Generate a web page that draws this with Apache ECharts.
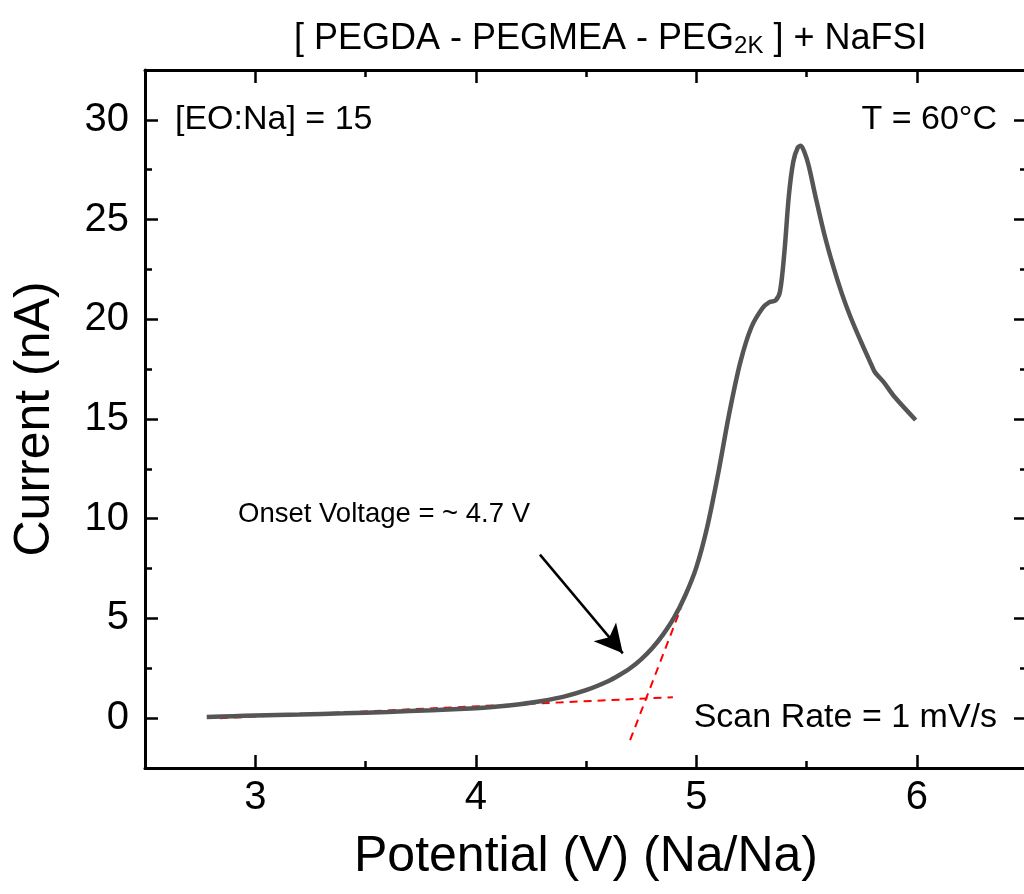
<!DOCTYPE html>
<html>
<head>
<meta charset="utf-8">
<script src="https://cdn.jsdelivr.net/npm/echarts@6/dist/echarts.min.js"></script>
<style>
  html, body { margin: 0; padding: 0; background: #fff; }
  #chart { width: 1024px; height: 894px; }
</style>
</head>
<body>
<div id="chart"></div>
<script>
// LSV curve
const potential = [2.78, 2.9, 3.0, 3.2, 3.4, 3.6, 3.8, 4.0, 4.1, 4.2, 4.3, 4.4, 4.5, 4.6, 4.65, 4.7, 4.75, 4.8, 4.85, 4.9, 4.95, 5.0, 5.05, 5.1, 5.15, 5.2, 5.25, 5.30, 5.33, 5.36, 5.38, 5.40, 5.42, 5.44, 5.46, 5.474, 5.49, 5.51, 5.54, 5.58, 5.62, 5.66, 5.70, 5.75, 5.795, 5.81, 5.85, 5.90, 5.995];
const current   = [0.06, 0.1, 0.13, 0.18, 0.24, 0.31, 0.4, 0.5, 0.58, 0.7, 0.86, 1.08, 1.4, 1.85, 2.15, 2.5, 2.95, 3.5, 4.2, 5.05, 6.15, 7.55, 9.6, 12.3, 15.3, 17.85, 19.6, 20.55, 20.85, 20.95, 21.4, 23.4, 26.2, 27.9, 28.6, 28.7, 28.4, 27.7, 26.2, 24.3, 22.7, 21.3, 20.1, 18.8, 17.7, 17.35, 16.85, 16.1, 14.95];

// tangent construction lines (red dashed)
const baselineTangent = [[2.84, 0.0], [4.894, 1.05]];
const riseTangent = [[4.70, -1.1], [4.93, 5.5]];
// arrow pointing at onset
const arrowFrom = [4.291, 8.2];
const arrowTo = [4.667, 3.25];

const xMajor = [3, 4, 5, 6];
const xMinor = [3.5, 4.5, 5.5, 6.5, 2.5];
const yMajor = [0, 5, 10, 15, 20, 25, 30];
const yMinor = [2.5, 7.5, 12.5, 17.5, 22.5, 27.5, 32.5];

const FONT = '"Liberation Sans", Arial, sans-serif';
const chart = echarts.init(document.getElementById('chart'));

const curveData = potential.map((v, i) => [v, current[i]]);

function xAx(pos, ticks, len, withLine, extra) {
  return Object.assign({
    type: 'value', position: pos, min: 2.5, max: 6.5, interval: 0.5,
    splitLine: { show: false },
    axisLine: { show: withLine, onZero: false, lineStyle: { color: '#000', width: 3 } },
    axisTick: { show: true, inside: true, length: len, customValues: ticks, lineStyle: { color: '#000', width: 2.5 } },
    axisLabel: { show: false }
  }, extra || {});
}
function yAx(pos, ticks, len, withLine, extra) {
  return Object.assign({
    type: 'value', position: pos, min: -2.5, max: 32.5, interval: 2.5,
    splitLine: { show: false },
    axisLine: { show: withLine, onZero: false, lineStyle: { color: '#000', width: 3 } },
    axisTick: { show: true, inside: true, length: len, customValues: ticks, lineStyle: { color: '#000', width: 2.5 } },
    axisLabel: { show: false }
  }, extra || {});
}

const option = {
  backgroundColor: '#fff',
  animation: false,
  grid: { left: 145, right: -3, top: 70, bottom: 126, outerBoundsMode: 'none', containLabel: false },
  xAxis: [
    xAx('bottom', xMajor, 13, true, {
      name: 'Potential (V) (Na/Na)', nameLocation: 'middle', nameGap: 64,
      nameTextStyle: { fontSize: 50, fontFamily: FONT, color: '#000' },
      axisLabel: { show: true, customValues: xMajor, margin: 10, fontSize: 40, fontFamily: FONT, color: '#000' }
    }),
    xAx('bottom', xMinor, 7, false),
    xAx('top', xMajor, 13, true),
    xAx('top', xMinor, 7, false)
  ],
  yAxis: [
    yAx('left', yMajor, 13, true, {
      name: 'Current (nA)', nameLocation: 'middle', nameGap: 85,
      nameTextStyle: { fontSize: 50, fontFamily: FONT, color: '#000' },
      axisLabel: { show: true, customValues: yMajor, margin: 16, fontSize: 40, fontFamily: FONT, color: '#000' }
    }),
    yAx('left', yMinor, 7, false),
    yAx('right', yMajor, 13, true),
    yAx('right', yMinor, 7, false)
  ],
  series: [
    {
      type: 'line', data: baselineTangent, symbol: 'none', silent: true,
      lineStyle: { color: '#ff0000', width: 2, type: [8, 6] }
    },
    {
      type: 'line', data: riseTangent, symbol: 'none', silent: true,
      lineStyle: { color: '#ff0000', width: 2, type: [8, 6] }
    },
    {
      type: 'line', data: curveData, symbol: 'none', smooth: 0.3,
      lineStyle: { color: '#555555', width: 4.5 },
      markLine: {
        silent: true, animation: false,
        symbol: ['none', 'arrow'], symbolSize: [22, 28],
        label: { show: false },
        lineStyle: { color: '#000', width: 2.5, type: 'solid' },
        data: [[{ coord: arrowFrom }, { coord: arrowTo }]]
      }
    }
  ],
  graphic: [
    {
      type: 'text', left: 294, top: 11,
      style: {
        text: '{a|[ PEGDA - PEGMEA - PEG}{s|2K}{a| ] + NaFSI}',
        rich: {
          a: { fontSize: 36, fontFamily: FONT, fill: '#000', lineHeight: 37, verticalAlign: 'top' },
          s: { fontSize: 24, fontFamily: FONT, fill: '#000', lineHeight: 24, padding: [23, 0, 0, 0], verticalAlign: 'bottom' }
        }
      }
    },
    { type: 'text', left: 175, top: 103, style: { text: '[EO:Na] = 15', fontSize: 34, fontFamily: FONT, fill: '#000' } },
    { type: 'text', right: 27, top: 103, style: { text: 'T = 60°C', fontSize: 34, fontFamily: FONT, fill: '#000' } },
    { type: 'text', right: 27, top: 701, style: { text: 'Scan Rate = 1 mV/s', fontSize: 34, fontFamily: FONT, fill: '#000' } },
    { type: 'text', left: 238, top: 500, style: { text: 'Onset Voltage = ~ 4.7 V', fontSize: 27.5, fontFamily: FONT, fill: '#000' } }
  ]
};

chart.setOption(option);
</script>
</body>
</html>
